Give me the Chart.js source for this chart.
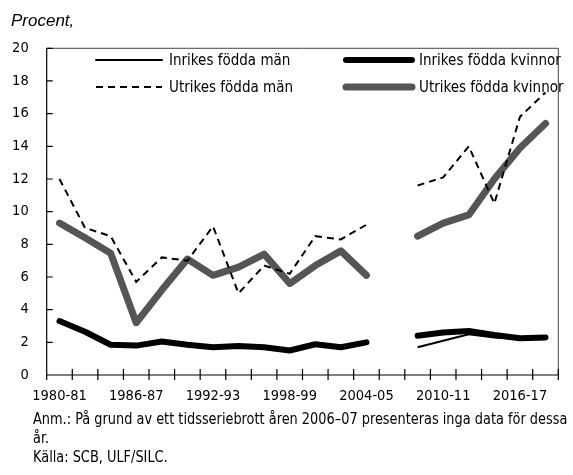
<!DOCTYPE html>
<html><head><meta charset="utf-8">
<script src="https://cdn.jsdelivr.net/npm/chart.js@4"></script>
<style>
html,body{margin:0;padding:0;background:#fff;}
#wrap{position:relative;width:573px;height:475px;overflow:hidden;background:#fff;}
canvas{position:absolute;left:0;top:0;}
.t{position:absolute;white-space:nowrap;color:#000;}
#title{left:11px;top:11px;font:italic 17px 'Liberation Sans',Arial,sans-serif;line-height:20px;}
#note{left:33px;top:409px;font:16.5px 'DejaVu Sans Condensed','DejaVu Sans',sans-serif;font-stretch:condensed;line-height:19px;transform:scaleX(0.87);transform-origin:0 0;}
</style></head><body>
<div id="wrap">
<canvas id="c" width="573" height="475"></canvas>
<div class="t" id="title">Procent,</div>
<div class="t" id="note">Anm.: På grund av ett tidsseriebrott åren 2006–07 presenteras inga data för dessa<br>år.<br>Källa: SCB, ULF/SILC.</div>
</div>
<script>
const categories = ['1980-81','1982-83','1984-85','1986-87','1988-89','1990-91','1992-93','1994-95','1996-97','1998-99','2000-01','2002-03','2004-05','2006-07','2008-09','2010-11','2012-13','2014-15','2016-17','2018-19'];
const tickLabels = ['1980-81','1986-87','1992-93','1998-99','2004-05','2010-11','2016-17'];
const seriesNames = ['Inrikes födda män','Inrikes födda kvinnor','Utrikes födda män','Utrikes födda kvinnor'];
const inrikesMan = [3.3, 2.6, 1.8, 1.8, 2.1, 1.8, 1.7, 1.8, 1.7, 1.5, 1.9, 1.7, 2.0, null, 1.7, 2.1, 2.5, 2.3, 2.2, 2.3];
const inrikesKvinnor = [3.3, 2.65, 1.85, 1.8, 2.05, 1.85, 1.7, 1.78, 1.7, 1.5, 1.88, 1.7, 2.0, null, 2.4, 2.6, 2.7, 2.45, 2.25, 2.3];
const utrikesMan = [12.0, 9.0, 8.5, 5.7, 7.2, 7.0, 9.1, 5.0, 6.7, 6.2, 8.5, 8.3, 9.2, null, 11.6, 12.1, 14.0, 10.5, 15.8, 17.3];
const utrikesKvinnor = [9.3, 8.4, 7.45, 3.2, 5.2, 7.1, 6.1, 6.6, 7.4, 5.6, 6.7, 7.6, 6.1, null, 8.5, 9.3, 9.8, 12.0, 13.9, 15.4];

const FONT = "'DejaVu Sans Condensed','DejaVu Sans',sans-serif";

const decor = {
  id: 'decor',
  afterDatasetsDraw(chart) {
    const {ctx, chartArea: a, scales} = chart;
    ctx.save();
    ctx.setLineDash([]);
    ctx.lineCap = 'butt';
    ctx.strokeStyle = '#444'; ctx.lineWidth = 1;
    ctx.beginPath();
    ctx.moveTo(a.left, a.top); ctx.lineTo(a.right, a.top); ctx.lineTo(a.right, a.bottom);
    ctx.stroke();
    ctx.strokeStyle = '#000'; ctx.lineWidth = 1.2;
    ctx.beginPath();
    ctx.moveTo(a.left, a.top); ctx.lineTo(a.left, a.bottom); ctx.lineTo(a.right, a.bottom);
    scales.y.ticks.forEach(t => {
      const p = scales.y.getPixelForValue(t.value);
      ctx.moveTo(a.left, p); ctx.lineTo(a.left + 6, p);
    });
    for (let k = 0; k <= categories.length; k++) {
      const p = scales.x2.getPixelForValue(k - 0.5);
      ctx.moveTo(p, a.bottom - 6); ctx.lineTo(p, a.bottom + 5);
    }
    ctx.stroke();
    // legend
    const colX = [49.3, 299.3], rowY = [11.7, 38.7];
    ctx.font = '15px ' + FONT;
    ctx.textBaseline = 'middle';
    ctx.textAlign = 'left';
    chart.data.datasets.forEach((ds, i) => {
      const x0 = a.left + colX[i % 2], y0 = a.top + rowY[Math.floor(i / 2)];
      ctx.save();
      ctx.strokeStyle = ds.borderColor;
      ctx.lineWidth = ds.borderWidth;
      ctx.setLineDash(ds.borderDash || []);
      ctx.lineCap = ds.borderDash ? 'butt' : 'round';
      ctx.beginPath(); ctx.moveTo(x0, y0); ctx.lineTo(x0 + 66, y0); ctx.stroke();
      ctx.restore();
      ctx.fillStyle = '#000';
      ctx.fillText(ds.label, x0 + 73, y0 + 1);
    });
    ctx.restore();
  }
};

new Chart(document.getElementById('c'), {
  type: 'line',
  data: {
    labels: categories,
    datasets: [
      {label: seriesNames[0], data: inrikesMan, borderColor: '#000', borderWidth: 2, borderJoinStyle: 'round'},
      {label: seriesNames[1], data: inrikesKvinnor, borderColor: '#000', borderWidth: 6, borderCapStyle: 'round', borderJoinStyle: 'round'},
      {label: seriesNames[2], data: utrikesMan, borderColor: '#000', borderWidth: 2, borderDash: [7, 5]},
      {label: seriesNames[3], data: utrikesKvinnor, borderColor: '#555', borderWidth: 7, borderCapStyle: 'round', borderJoinStyle: 'round'}
    ]
  },
  options: {
    responsive: false,
    animation: false,
    devicePixelRatio: 1,
    spanGaps: false,
    elements: {point: {radius: 0}, line: {tension: 0, fill: false}},
    layout: {padding: {left: 0, right: 14.7, top: 48.3, bottom: 60}},
    plugins: {legend: {display: false}, tooltip: {enabled: false}},
    scales: {
      x: {type: 'category', offset: true, grid: {display: false, drawTicks: false}, border: {display: false}, ticks: {display: false}, afterFit(s) { s.height = 0; }},
      x2: {type: 'linear', position: 'bottom', min: -0.5, max: categories.length - 0.5,
        grid: {display: false, drawTicks: false}, border: {display: false},
        afterBuildTicks(s) { s.ticks = tickLabels.map(l => ({value: categories.indexOf(l)})); },
        ticks: {autoSkip: false, maxRotation: 0, padding: 13, color: '#000', font: {family: FONT, size: 14.5}, callback: v => categories[v]},
        afterFit(s) { s.height = 40; }},
      y: {min: 0, max: 20, ticks: {stepSize: 2, padding: 18, color: '#000', font: {family: FONT, size: 14.5}},
        grid: {display: false, drawTicks: false}, border: {display: false}, afterFit(s) { s.width = 46.7; }}
    }
  },
  plugins: [decor]
});
</script>
</body></html>
